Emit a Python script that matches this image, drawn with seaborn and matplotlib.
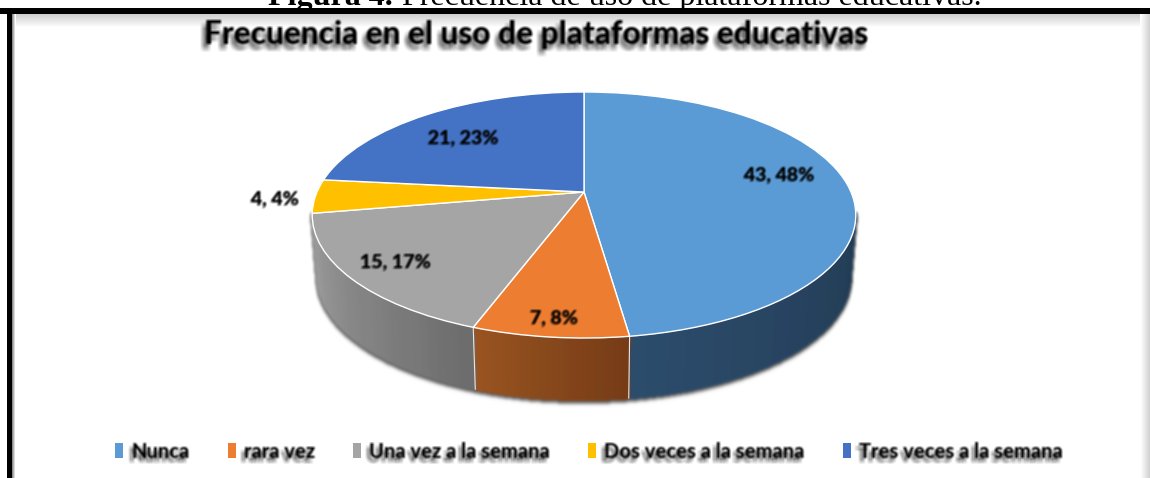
import numpy as np
import matplotlib
matplotlib.use('Agg')
import matplotlib.pyplot as plt
import seaborn as sns
from matplotlib.collections import PolyCollection
from matplotlib.patches import Patch, Rectangle
from matplotlib.transforms import Transform

# Chart values
categories = ['Nunca', 'rara vez', 'Una vez a la semana', 'Dos veces a la semana', 'Tres veces a la semana']
counts = [43, 7, 15, 4, 21]
top_colors = ['#5B9BD5', '#ED7D31', '#A5A5A5', '#FFC000', '#4472C4']
wall_left = ['#2C4C6C', '#9A5421', '#A2A2A2', '#A07800', '#2A4778']
wall_right = ['#223C54', '#773D17', '#6E6E6E', '#A07800', '#2A4778']
caption_bold = 'Figura 4.'
caption_rest = 'Frecuencia de uso de plataformas educativas.'
chart_title = 'Frecuencia en el uso de plataformas educativas'

W, H = 1150, 478
sns.set_theme(style="white")
plt.rcParams['font.family'] = ['Lato', 'DejaVu Sans']


class TiltedPie(Transform):
    """Projects the flat unit pie onto the tilted disc, in pixel coordinates."""
    input_dims = 2
    output_dims = 2

    def __init__(self, cx=584, cy=192, c=267, a=118.7, k=0.187):
        super().__init__()
        self.cx, self.cy, self.c, self.a, self.k = cx, cy, c, a, k

    def transform_non_affine(self, values):
        values = np.asarray(values, dtype=float)
        w = 1 + self.k * values[:, 1]
        return np.column_stack([self.cx + self.c * values[:, 0] / w,
                                self.cy - self.a * values[:, 1] / w])


def box_blur(arr, size):
    if size < 1:
        return arr
    kernel = np.ones(2 * size + 1) / (2 * size + 1)
    for axis in (0, 1):
        arr = np.apply_along_axis(lambda m: np.convolve(m, kernel, mode='same'), axis, arr)
    return arr


def soft_shadow(dx=-3, dy=4, blur=3, strength=0.75, soften=1):
    """agg filter: blurs the artist a bit and puts a grey drop shadow under it."""
    def _filter(img, dpi):
        pad = blur * 2 + max(abs(dx), abs(dy)) + 2
        img = np.pad(img, ((pad, pad), (pad, pad), (0, 0)))
        alpha = img[:, :, 3]
        shadow = box_blur(np.roll(np.roll(alpha, dy, axis=0), dx, axis=1), blur) * strength
        a_top = box_blur(alpha, soften)
        out = np.zeros_like(img)
        a_out = a_top + shadow * (1 - a_top)
        for i in range(3):
            col = box_blur(img[:, :, i] * alpha, soften)
            out[:, :, i] = col / np.maximum(a_out, 1e-4)
        out[:, :, 3] = a_out
        return np.clip(out, 0, 1), -pad, -pad
    return _filter


fig = plt.figure(figsize=(W / 100, H / 100), dpi=100)
ax = fig.add_axes([0, 0, 1, 1])

# Pie top, drawn by the library and then tilted
wedges, _ = ax.pie(counts, startangle=90, counterclock=False, colors=top_colors,
                   wedgeprops=dict(edgecolor='white', linewidth=1.0))
ax.set_aspect('auto')
ax.set_xlim(0, W)
ax.set_ylim(H, 0)
ax.axis('off')
top_tf = TiltedPie() + ax.transData
for w in wedges:
    w.set_transform(top_tf)
    w.set_zorder(5)

# Side wall of the pie, shaded piece by piece along each slice
upper = TiltedPie()
lower = TiltedPie(cy=254, c=262)
front_from, front_to = -170, -10  # part of the rim facing the viewer, degrees
all_quads, all_colors, seams = [], [], []
for w, c_l, c_r in zip(wedges, wall_left, wall_right):
    # wedge angles may sit anywhere on the circle, fold them on to -180..180
    t1 = (w.theta1 + 180) % 360 - 180
    t2 = (w.theta2 + 180) % 360 - 180
    if t2 < t1:
        t2 += 360
    lo, hi = max(t1, front_from), min(t2, front_to)
    if hi <= lo:
        continue
    steps = np.linspace(lo, hi, 40)
    pts = np.column_stack([np.cos(np.radians(steps)), np.sin(np.radians(steps))])
    up, dn = upper.transform(pts), lower.transform(pts)
    left_rgb = np.array(matplotlib.colors.to_rgb(c_l))
    right_rgb = np.array(matplotlib.colors.to_rgb(c_r))
    mix = np.linspace(0, 1, len(steps) - 1)[:, None]
    all_quads += [[up[i], up[i + 1], dn[i + 1], dn[i]] for i in range(len(steps) - 1)]
    all_colors += list(left_rgb * (1 - mix) + right_rgb * mix)
    if lo > front_from:
        seams.append((up[0], dn[0]))

walls = PolyCollection(all_quads, facecolors=all_colors, edgecolors=all_colors,
                       linewidths=0.8, antialiaseds=False, zorder=3)
walls.set_agg_filter(soft_shadow(dx=0, dy=2, blur=2, strength=0.4))
ax.add_collection(walls)
for a, b in seams:
    ax.plot([a[0], b[0]], [a[1], b[1]], color='#E8E8E8', lw=0.8, zorder=4)

# Data labels
total = sum(counts)
label_xy = [(779, 175), (554, 318), (395, 262), (275, 199), (463, 138)]
for v, (x, y) in zip(counts, label_xy):
    t = ax.text(x, y, f'{v}, {round(v / total * 100)}%', ha='center', va='center',
                fontsize=14, fontweight='black', color='black', zorder=8)
    t.set_agg_filter(soft_shadow(dx=-1, dy=1, blur=1, strength=0.35))

# Frame of the pasted picture
band = np.linspace(0.78, 1, 16)[:, None]
ax.imshow(band, cmap='gray', vmin=0, vmax=1, extent=(12, W, 28, 12), aspect='auto', zorder=1)
side = np.linspace(1, 0.82, 10)[None, :]
ax.imshow(side, cmap='gray', vmin=0, vmax=1, extent=(1140, W, H, 12), aspect='auto', zorder=1.1)
edge = np.linspace(0.55, 1, 4)[None, :]
ax.imshow(edge, cmap='gray', vmin=0, vmax=1, extent=(12, 16, H, 12), aspect='auto', zorder=1.1)
ax.set_xlim(0, W)
ax.set_ylim(H, 0)
ax.add_patch(Rectangle((0, 8), W, 5.5, facecolor='black', edgecolor='none', zorder=2))
ax.add_patch(Rectangle((7, 8), 5, H - 8, facecolor='black', edgecolor='none', zorder=2))

# Caption above the picture, cut by the top of the page as in the source
ax.text(268, 4.5, caption_bold, fontfamily='Liberation Serif', fontweight='bold',
        fontsize=23, color='black', ha='left', va='baseline', zorder=0.5)
ax.text(402, 4.5, caption_rest, fontfamily='Liberation Serif', fontsize=23,
        color='black', ha='left', va='baseline', zorder=0.5)

# Chart title
title = ax.text(536, 34, chart_title, fontsize=22.8, fontweight='black', color='black',
                ha='center', va='center', zorder=8)
title.set_agg_filter(soft_shadow(dx=-3, dy=5, blur=3, strength=0.7))

# Legend
handles = [Patch(facecolor=c, edgecolor='none') for c in top_colors]
leg = ax.legend(handles, categories, loc='center', bbox_to_anchor=(589 / W, 1 - 451 / H),
                ncol=5, frameon=False, fontsize=14.5, handlelength=0.4, handleheight=0.7,
                handletextpad=0.4, columnspacing=1.9, borderaxespad=0)
leg.set_zorder(8)
for t in leg.get_texts():
    t.set_fontweight('black')
    t.set_color('black')
    t.set_agg_filter(soft_shadow(dx=-3, dy=4, blur=2, strength=0.6))

fig.savefig('out.png', dpi=100, facecolor='white')
plt.close(fig)
